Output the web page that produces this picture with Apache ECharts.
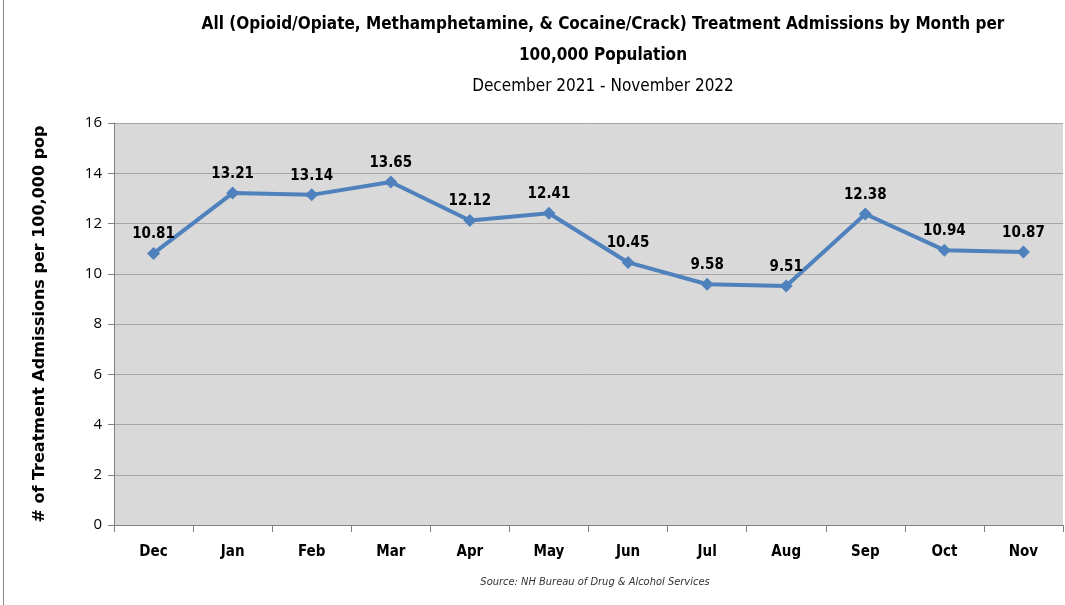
<!DOCTYPE html>
<html><head><meta charset="utf-8">
<script src="https://cdn.jsdelivr.net/npm/echarts@6/dist/echarts.min.js"></script>
<style>html,body{margin:0;padding:0;background:#fff}#c{width:1065px;height:605px}</style>
</head><body><div id="c"></div>
<script>
const months = ['Dec','Jan','Feb','Mar','Apr','May','Jun','Jul','Aug','Sep','Oct','Nov'];
const admissions = [10.81,13.21,13.14,13.65,12.12,12.41,10.45,9.58,9.51,12.38,10.94,10.87];
const yTicks = [0,2,4,6,8,10,12,14,16];
const titleLines = ['All (Opioid/Opiate, Methamphetamine, & Cocaine/Crack) Treatment Admissions by Month per','100,000 Population'];
const subtitleText = 'December 2021 - November 2022';
const yAxisTitle = '# of Treatment Admissions per 100,000 pop';
const sourceText = 'Source: NH Bureau of Drug & Alcohol Services';

const narrow = '"Liberation Sans Narrow","DejaVu Sans Condensed","Open Sans",sans-serif';
const chart = echarts.init(document.getElementById('c'));
chart.setOption({
  animation:false,
  backgroundColor:'#fff',
  title:[
    {text:titleLines.join('\n'),left:598,top:4,textAlign:'center',
     textStyle:{fontFamily:narrow,fontWeight:'bold',fontSize:17,color:'#000',lineHeight:31}},
    {text:subtitleText,left:598,top:73,textAlign:'center',
     textStyle:{fontFamily:narrow,fontWeight:'normal',fontSize:17,color:'#000'}},
    {text:sourceText,left:590,top:572,textAlign:'center',
     textStyle:{fontFamily:narrow,fontStyle:'italic',fontWeight:'normal',fontSize:11,color:'#333'}}
  ],
  graphic:[{type:'line',shape:{x1:3.5,y1:0,x2:3.5,y2:605},style:{stroke:'#888',lineWidth:1}}],
  grid:{left:114,right:2,top:123,bottom:80,show:true,backgroundColor:'#D9D9D9',borderWidth:0},
  xAxis:{type:'category',data:months,boundaryGap:true,
    axisLine:{lineStyle:{color:'#808080',width:1}},
    axisTick:{show:true,length:7,alignWithLabel:false,lineStyle:{color:'#808080'}},
    axisLabel:{margin:20,fontFamily:narrow,fontWeight:'bold',fontSize:15,color:'#000'}},
  yAxis:{type:'value',min:0,max:16,interval:2,
    name:yAxisTitle,nameLocation:'middle',nameGap:66,nameRotate:90,
    nameTextStyle:{fontFamily:'"DejaVu Sans",sans-serif',fontWeight:'bold',fontSize:16,color:'#000'},
    axisLine:{show:true,lineStyle:{color:'#808080'}},
    axisTick:{show:true,length:6,lineStyle:{color:'#808080'}},
    splitLine:{lineStyle:{color:'#A6A6A6',width:1}},
    axisLabel:{margin:12,fontFamily:'"Open Sans","DejaVu Sans",sans-serif',fontSize:15,color:'#000',
      formatter:v=>yTicks.includes(v)?String(v):''}},
  series:[{type:'line',data:admissions,symbol:'diamond',symbolSize:13,
    lineStyle:{color:'#4F81BD',width:4},itemStyle:{color:'#4F81BD'},
    label:{show:true,position:'top',distance:5,fontFamily:narrow,fontWeight:'bold',fontSize:15,color:'#000',
      formatter:p=>p.value.toFixed(2)}}]
});
</script></body></html>
